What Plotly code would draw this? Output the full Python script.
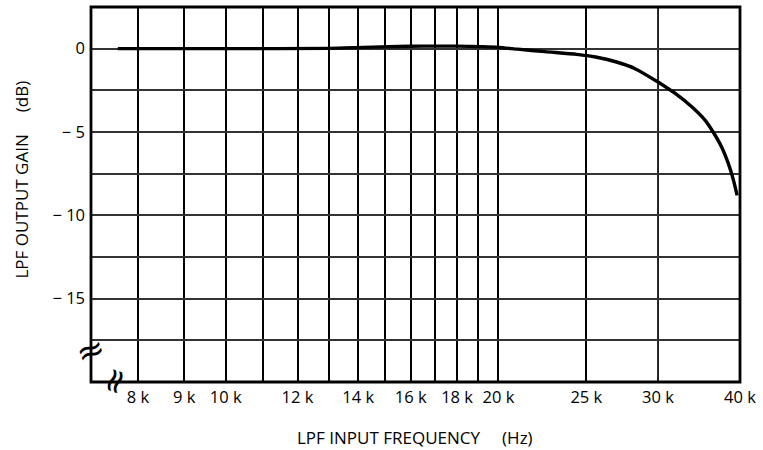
import math
import plotly.graph_objects as go

# ---- data ----
freq_hz = [7600, 10000, 13000, 14200, 15500, 16500, 18000, 19200, 20000, 21000,
           22500, 24400, 25600, 27000, 28300, 30000, 31900, 33800, 35400, 36400,
           37500, 38400, 39100, 39600]
gain_db = [0.0, 0.0, 0.02, 0.08, 0.13, 0.15, 0.15, 0.12, 0.08, -0.03,
           -0.18, -0.34, -0.5, -0.8, -1.2, -2.0, -2.7, -3.5, -4.3, -5.0,
           -5.9, -6.9, -7.9, -8.8]

x_grid_main = [8000, 9000, 10000, 11000, 12000, 13000, 14000, 15000, 16000,
               17000, 18000, 19000, 20000, 25000, 30000]
x_text_main = ["8 k", "9 k", "10 k", "", "12 k", "", "14 k", "", "16 k",
               "", "18 k", "", "20 k", "25 k", "30 k"]
x_grid_end = [30000, 40000]
x_text_end = ["", "40 k"]

y_grid = [0, -2.5, -5, -7.5, -10, -12.5, -15, -17.5]
y_text = ["0", "", "\u2212 5", "", "\u2212 10", "", "\u2212 15", ""]

x_min, x_break, x_max = 7100, 30000, 40000
y_min, y_max = -20, 2.5

FONT = "Open Sans"
split_dom = 0.8737

seg1_x = [f for f in freq_hz if f <= x_break]
seg1_y = [g for f, g in zip(freq_hz, gain_db) if f <= x_break]
seg2_x = [f for f in freq_hz if f >= x_break]
seg2_y = [g for f, g in zip(freq_hz, gain_db) if f >= x_break]

fig = go.Figure()
line = dict(color="black", width=3.4, shape="spline", smoothing=0.6)
fig.add_trace(go.Scatter(x=seg1_x, y=seg1_y, mode="lines", line=line,
                         xaxis="x", yaxis="y", showlegend=False, hoverinfo="skip"))
fig.add_trace(go.Scatter(x=seg2_x, y=seg2_y, mode="lines", line=line,
                         xaxis="x2", yaxis="y", showlegend=False, hoverinfo="skip"))

tickfont = dict(family=FONT, size=16.5, color="black")
vgrid = dict(showgrid=True, gridcolor="#000000", gridwidth=1.7, zeroline=False,
             showline=False, ticks="", tickfont=tickfont, tickmode="array",
             ticklabelstandoff=3)

fig.update_layout(
    width=763, height=450,
    margin=dict(l=91, r=18, t=7, b=68),
    paper_bgcolor="white", plot_bgcolor="white",
    xaxis=dict(type="log", domain=[0, split_dom],
               range=[math.log10(x_min), math.log10(x_break)],
               tickvals=x_grid_main, ticktext=x_text_main, anchor="y", **vgrid),
    xaxis2=dict(type="log", domain=[split_dom, 1],
                range=[math.log10(x_break), math.log10(x_max)],
                tickvals=x_grid_end, ticktext=x_text_end, anchor="y", **vgrid),
    yaxis=dict(range=[y_min, y_max], tickmode="array", tickvals=y_grid, ticktext=y_text,
               showgrid=True, gridcolor="#333333", gridwidth=1.5, zeroline=False,
               showline=False, ticks="", tickfont=tickfont, anchor="x",
               ticklabelstandoff=5),
    shapes=[
        dict(type="line", xref="paper", yref="paper", x0=split_dom, x1=split_dom,
             y0=0, y1=1, line=dict(color="black", width=1.7), layer="below"),
        dict(type="rect", xref="paper", yref="paper", x0=0, x1=1, y0=0, y1=1,
             line=dict(color="black", width=2.8), layer="above"),
    ],
    annotations=[
        dict(text="LPF INPUT FREQUENCY&nbsp;&nbsp;&nbsp;&nbsp;&nbsp;(Hz)", xref="paper", yref="paper",
             x=0.4985, y=-0.1467, xanchor="center", yanchor="middle", showarrow=False,
             font=dict(family=FONT, size=17, color="black")),
        dict(text="LPF OUTPUT GAIN&nbsp;&nbsp;&nbsp;&nbsp;&nbsp;(dB)", xref="paper", yref="paper",
             x=-0.107, y=0.5387, xanchor="center", yanchor="middle", textangle=-90,
             showarrow=False, font=dict(family=FONT, size=17, color="black")),
        dict(text="\u2248", xref="paper", yref="paper", x=-0.0015, y=0.0853,
             xanchor="center", yanchor="middle", textangle=-20, showarrow=False,
             font=dict(family="DejaVu Sans", size=34, color="black")),
        dict(text="\u2248", xref="paper", yref="paper", x=0.0344, y=0.004,
             xanchor="center", yanchor="middle", textangle=-70, showarrow=False,
             font=dict(family="DejaVu Sans", size=34, color="black")),
    ],
)

fig.write_html("out.html", config={"displayModeBar": False},
               post_script="document.body.style.margin='0';document.body.style.overflow='hidden';")
